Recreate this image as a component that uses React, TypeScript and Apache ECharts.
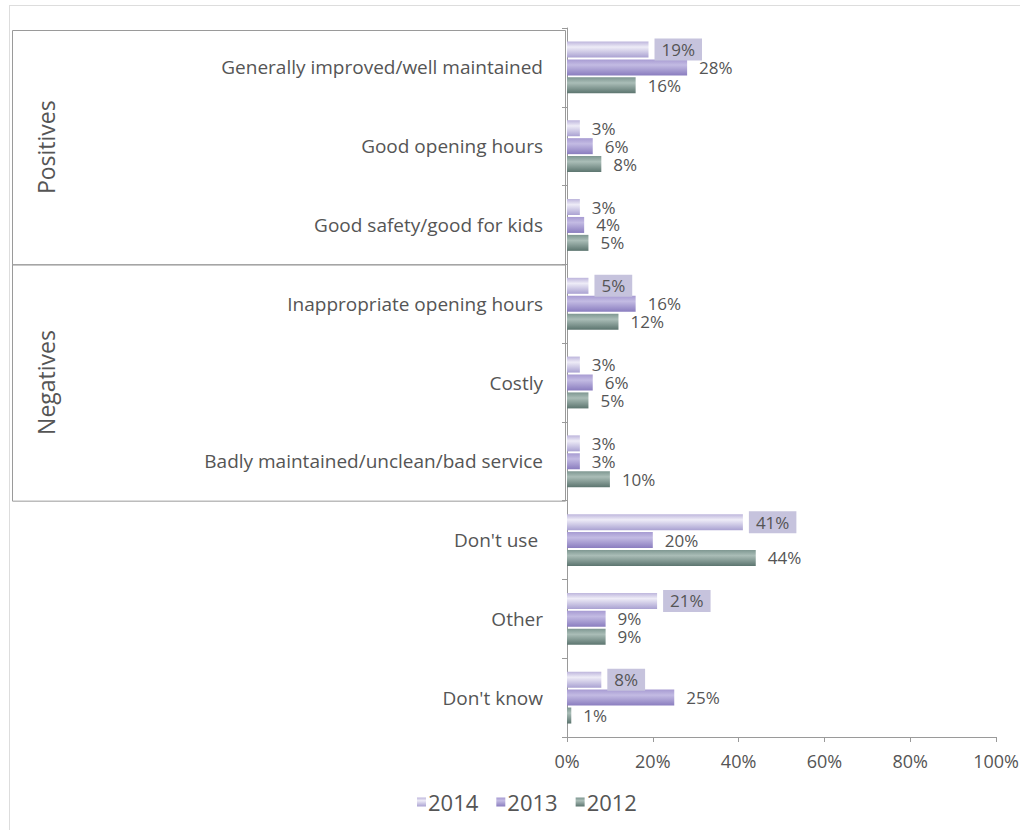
import React, { useEffect, useRef } from "react";
import * as echarts from "echarts";

const categories = [
  "Generally improved/well maintained",
  "Good opening hours",
  "Good safety/good for kids",
  "Inappropriate opening hours",
  "Costly",
  "Badly maintained/unclean/bad service",
  "Don't use ",
  "Other",
  "Don't know",
];
const seriesNames = ["2014", "2013", "2012"];
const values2014 = [19, 3, 3, 5, 3, 3, 41, 21, 8];
const values2013 = [28, 6, 4, 16, 6, 3, 20, 9, 25];
const values2012 = [16, 8, 5, 12, 5, 10, 44, 9, 1];
const groupTitles = ["Positives", "Negatives"];
const xTicks = [0, 20, 40, 60, 80, 100];

const FONT = "Open Sans";
const TEXT = "#555555";

const W = 1025;
const H = 830;
const GRID_LEFT = 567;
const GRID_RIGHT = 29;
const GRID_TOP = 28;
const GRID_BOTTOM = 93;

function grad(top: string, mid: string, bottom: string) {
  return new echarts.graphic.LinearGradient(0, 0, 0, 1, [
    { offset: 0, color: top },
    { offset: 0.35, color: mid },
    { offset: 1, color: bottom },
  ]);
}

export default function App() {
  const ref = useRef<HTMLDivElement>(null);
  useEffect(() => {
    if (!ref.current) return;
    const chart = echarts.init(ref.current, null, { renderer: "svg" });
    const band = (H - GRID_TOP - GRID_BOTTOM) / categories.length;
    const boxLeft = 12;
    const boxRight = GRID_LEFT - 2;
    const posTop = GRID_TOP + 2;
    const posBottom = GRID_TOP + band * 3;
    const negBottom = GRID_TOP + band * 6;

    const labelBase = {
      show: true,
      position: "right" as const,
      fontFamily: FONT,
      fontSize: 17,
      color: TEXT,
      formatter: (p: any) => p.value + "%",
    };

    const data2014 = values2014.map((v) => ({
      value: v,
      label:
        v >= 5
          ? {
              backgroundColor: "#c6c3dd",
              padding: [3, 7, 2, 7],
              distance: 6,
            }
          : { distance: 12 },
    }));

    const option: any = {
      animation: false,
      backgroundColor: "#ffffff",
      textStyle: { fontFamily: FONT },
      grid: {
        left: GRID_LEFT,
        right: GRID_RIGHT,
        top: GRID_TOP,
        bottom: GRID_BOTTOM,
        containLabel: false,
      },
      legend: {
        data: seriesNames,
        left: 417,
        top: 791,
        padding: 0,
        itemWidth: 9,
        itemHeight: 9,
        itemGap: 18,
        icon: "rect",
        textStyle: { fontFamily: FONT, fontSize: 22, color: TEXT, padding: [0, 0, 0, -3] },
      },
      xAxis: {
        type: "value",
        min: 0,
        max: 100,
        interval: 20,
        axisLine: { show: true, lineStyle: { color: "#9a9a9a" } },
        axisTick: { show: true, length: 5, lineStyle: { color: "#9a9a9a" } },
        splitLine: { show: false },
        axisLabel: {
          margin: 15,
          fontFamily: FONT,
          fontSize: 18,
          color: TEXT,
          formatter: (v: number) => (xTicks.includes(v) ? v + "%" : ""),
        },
      },
      yAxis: {
        type: "category",
        data: categories,
        inverse: true,
        axisLine: { show: true, lineStyle: { color: "#9a9a9a" } },
        axisTick: { show: true, length: 5, lineStyle: { color: "#9a9a9a" } },
        axisLabel: {
          margin: 24,
          fontFamily: FONT,
          fontSize: 19,
          color: TEXT,
        },
      },
      series: [
        {
          name: seriesNames[0],
          type: "bar",
          data: data2014,
          barWidth: 16,
          barGap: "12%",
          itemStyle: { color: grad("#bdb5dc", "#eeecf7", "#aaa2d2") },
          label: { ...labelBase, distance: 12 },
        },
        {
          name: seriesNames[1],
          type: "bar",
          data: values2013,
          barWidth: 16,
          barGap: "12%",
          itemStyle: { color: grad("#a79bd2", "#c3bbe3", "#8a7dbf") },
          label: { ...labelBase, distance: 12 },
        },
        {
          name: seriesNames[2],
          type: "bar",
          data: values2012,
          barWidth: 16,
          barGap: "12%",
          itemStyle: { color: grad("#7e9791", "#aabdb7", "#5c756f") },
          label: { ...labelBase, distance: 12 },
        },
      ],
      graphic: [
        {
          type: "line",
          shape: { x1: 9, y1: 5.5, x2: 1020, y2: 5.5 },
          style: { stroke: "#dddddd", lineWidth: 1 },
          silent: true,
        },
        {
          type: "line",
          shape: { x1: 9.5, y1: 5, x2: 9.5, y2: 830 },
          style: { stroke: "#dddddd", lineWidth: 1 },
          silent: true,
        },
        {
          type: "rect",
          shape: { x: boxLeft + 0.5, y: posTop + 0.5, width: boxRight - boxLeft, height: posBottom - posTop },
          style: { fill: "none", stroke: "#9a9a9a", lineWidth: 1 },
          silent: true,
        },
        {
          type: "rect",
          shape: { x: boxLeft + 0.5, y: posBottom + 0.5, width: boxRight - boxLeft, height: negBottom - posBottom },
          style: { fill: "none", stroke: "#9a9a9a", lineWidth: 1 },
          silent: true,
        },
        {
          type: "text",
          x: 46,
          y: (posTop + posBottom) / 2,
          rotation: Math.PI / 2,
          style: {
            text: groupTitles[0],
            align: "center",
            verticalAlign: "middle",
            fontFamily: FONT,
            fontSize: 23,
            fill: TEXT,
          },
          silent: true,
        },
        {
          type: "text",
          x: 46,
          y: (posBottom + negBottom) / 2,
          rotation: Math.PI / 2,
          style: {
            text: groupTitles[1],
            align: "center",
            verticalAlign: "middle",
            fontFamily: FONT,
            fontSize: 23,
            fill: TEXT,
          },
          silent: true,
        },
      ],
    };
    chart.setOption(option);
    return () => chart.dispose();
  }, []);
  return (
    <div
      ref={ref}
      style={{ position: "absolute", left: 0, top: 0, width: W, height: H }}
    />
  );
}
